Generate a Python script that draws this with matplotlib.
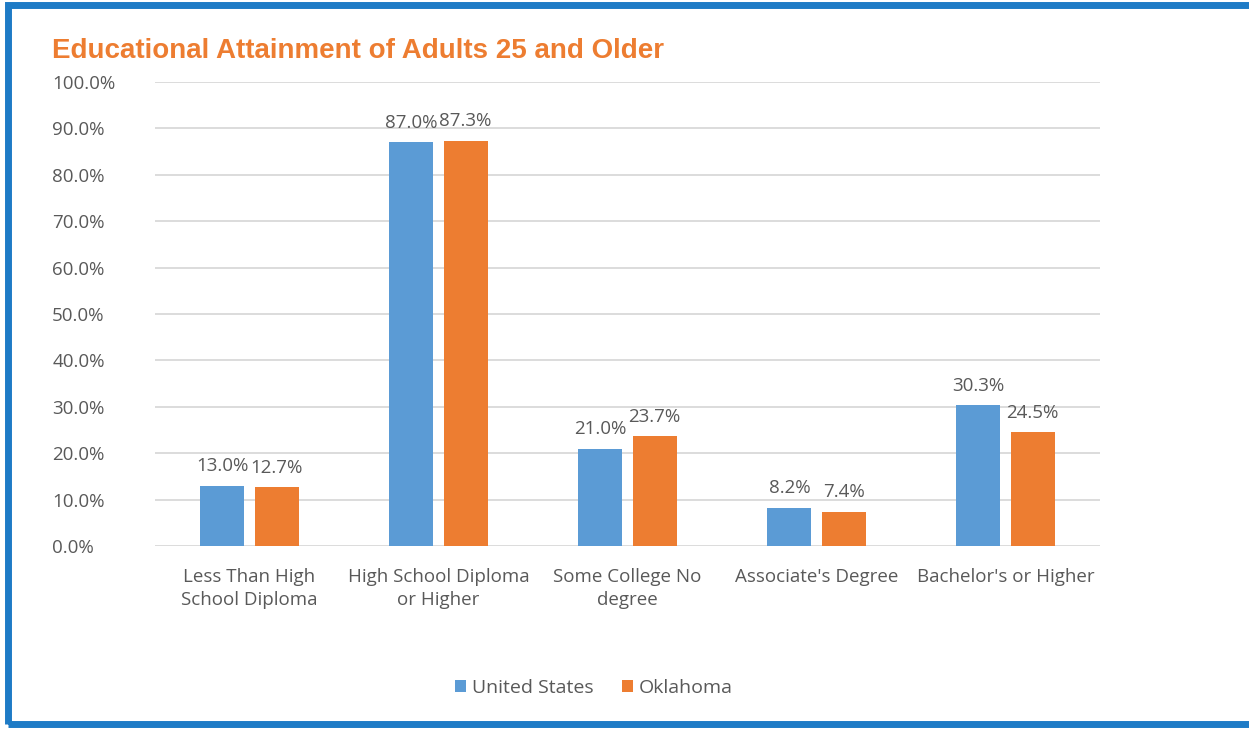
import numpy as np
import matplotlib.pyplot as plt
from matplotlib.patches import Rectangle

categories = ["Less Than High\nSchool Diploma", "High School Diploma\nor Higher",
              "Some College No\ndegree", "Associate's Degree", "Bachelor's or Higher"]
us_vals = [13.0, 87.0, 21.0, 8.2, 30.3]
ok_vals = [12.7, 87.3, 23.7, 7.4, 24.5]
series_names = ["United States", "Oklahoma"]
yticks = np.arange(0, 101, 10)

blue = '#5B9BD5'
orange = '#ED7D31'
txt_grey = '#595959'

plt.rcParams['font.family'] = ['Open Sans', 'DejaVu Sans']

fig = plt.figure(figsize=(12.49, 7.29), dpi=100)
ax = fig.add_axes([155/1249, 1-546/729, 945/1249, 464/729])

x = np.arange(len(categories))
w = 0.233
off = 0.143
b1 = ax.bar(x - off, us_vals, w, color=blue, label=series_names[0], zorder=3)
b2 = ax.bar(x + off, ok_vals, w, color=orange, label=series_names[1], zorder=3)

# value labels sit just above each bar
for bars, vals in ((b1, us_vals), (b2, ok_vals)):
    for r, v in zip(bars, vals):
        ax.text(r.get_x() + r.get_width()/2, v + 4.2, f"{v:.1f}%", ha='center',
                va='center', fontsize=13.5, color=txt_grey)

ax.set_xlim(-0.5, len(categories) - 0.5)
ax.set_ylim(0, 100)
ax.set_yticks(yticks)
ax.set_yticklabels([f"{t:.1f}%" for t in yticks], fontsize=13.5, color=txt_grey)
ax.set_xticks(x)
ax.set_xticklabels(categories, fontsize=13.5, color=txt_grey, linespacing=1.35)
ax.tick_params(axis='both', length=0)
ax.tick_params(axis='y', pad=74)
ax.tick_params(axis='x', pad=16)
for lbl in ax.get_yticklabels():
    lbl.set_horizontalalignment('left')
ax.grid(axis='y', color='#D9D9D9', linewidth=1.3, zorder=0)
for s in ax.spines.values():
    s.set_visible(False)

fig.text(52/1249, 1-58/729, "Educational Attainment of Adults 25 and Older",
         fontsize=20, fontweight='bold', color=orange, va='baseline', ha='left',
         family=['Liberation Sans Narrow', 'Liberation Sans', 'DejaVu Sans'])

fig.legend(loc='center', bbox_to_anchor=(594/1249, 1-688/729), ncol=2, frameon=False,
           fontsize=14, handlelength=0.55, handleheight=0.55, handletextpad=0.3,
           columnspacing=1.5, labelcolor=txt_grey)

# blue frame around the panel
fig.add_artist(Rectangle((8/1249, 5/729), 1260/1249, 719/729, transform=fig.transFigure,
                         fill=False, edgecolor='#1E7BC6', linewidth=5))

fig.savefig('out.png', dpi=100)
